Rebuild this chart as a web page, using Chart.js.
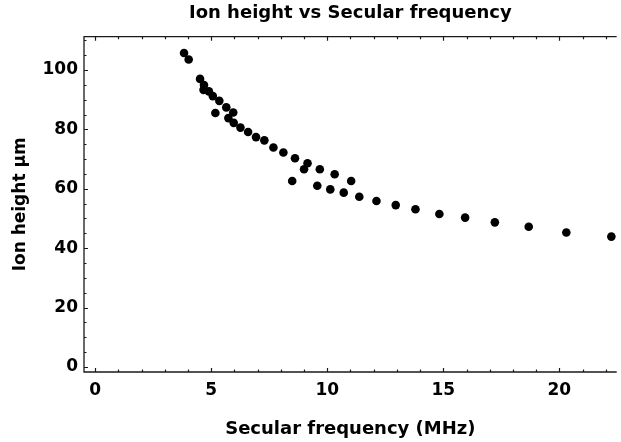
<!DOCTYPE html>
<html><head><meta charset="utf-8">
<script src="https://cdn.jsdelivr.net/npm/chart.js@4.4.1/dist/chart.umd.min.js"></script>
<style>html,body{margin:0;padding:0;background:#fff;}#wrap{width:621px;height:442px;}</style>
</head><body><div id="wrap"><canvas id="c" width="621" height="442"></canvas></div>
<script>
// ---- data ----
const frequencyMHz = [3.83, 4.03, 4.52, 4.69, 4.67, 4.90, 5.07, 5.35, 5.18, 5.65,
  5.95, 5.74, 5.97, 6.26, 6.59, 6.93, 7.29, 7.68, 8.11, 8.61,
  9.15, 9.00, 9.68, 10.32, 11.03, 8.49, 9.57, 10.13, 10.71, 11.38,
  12.12, 12.95, 13.80, 14.83, 15.94, 17.22, 18.68, 20.30, 22.24];
const ionHeightUm = [105.7, 103.5, 97.0, 94.9, 93.3, 92.8, 91.2, 89.6, 85.5, 87.4,
  85.7, 83.8, 82.2, 80.6, 79.1, 77.4, 76.3, 73.9, 72.2, 70.3,
  68.6, 66.6, 66.6, 64.9, 62.6, 62.6, 61.0, 59.8, 58.7, 57.3,
  55.9, 54.5, 53.1, 51.5, 50.3, 48.7, 47.2, 45.3, 43.9];
const xTickLabels = [0, 5, 10, 15, 20];
const yTickLabels = [0, 20, 40, 60, 80, 100];
const chartTitle = 'Ion height vs Secular frequency';
const xAxisTitle = 'Secular frequency (MHz)';
const yAxisTitle = 'Ion height \u03BCm';

const points = frequencyMHz.map((f, i) => ({x: f, y: ionHeightUm[i]}));

const frameAndTicks = {
  id: 'frameAndTicks',
  afterDraw(chart) {
    const {ctx, chartArea: a, scales: {x, y}} = chart;
    ctx.save();
    ctx.strokeStyle = '#1a1a1a';
    ctx.lineWidth = 1.3;
    ctx.beginPath();
    ctx.moveTo(a.right, a.top); ctx.lineTo(a.left, a.top);
    ctx.lineTo(a.left, a.bottom); ctx.lineTo(a.right, a.bottom);
    ctx.stroke();
    ctx.lineWidth = 1.2;
    ctx.beginPath();
    for (let v = Math.ceil(x.min); v <= x.max; v += 1) {
      const px = Math.round(x.getPixelForValue(v)) + 0.5;
      const L = (v % 5 === 0) ? 4 : 2.5;
      ctx.moveTo(px, a.bottom); ctx.lineTo(px, a.bottom - L);
      ctx.moveTo(px, a.top); ctx.lineTo(px, a.top + L);
    }
    for (let v = Math.ceil(y.min / 5) * 5; v <= y.max; v += 5) {
      const py = Math.round(y.getPixelForValue(v)) + 0.5;
      const L = (v % 20 === 0) ? 4 : 2.5;
      ctx.moveTo(a.left, py); ctx.lineTo(a.left + L, py);
    }
    ctx.stroke();
    ctx.restore();
  }
};

Chart.defaults.font.family = '"DejaVu Sans", sans-serif';
Chart.defaults.color = '#000';

new Chart(document.getElementById('c'), {
  type: 'scatter',
  data: {
    datasets: [{
      data: points,
      backgroundColor: '#000',
      borderColor: '#000',
      borderWidth: 0,
      pointRadius: 4.3,
      pointHoverRadius: 4.3
    }]
  },
  options: {
    responsive: false,
    animation: false,
    devicePixelRatio: 1,
    layout: {padding: {left: 0, right: 0, top: 0, bottom: 0}},
    plugins: {
      legend: {display: false},
      tooltip: {enabled: false},
      title: {
        display: true,
        text: chartTitle,
        fullSize: false,
        color: '#000',
        font: {size: 18, weight: 'bold'},
        padding: {top: 3, bottom: 12.1}
      }
    },
    scales: {
      x: {
        type: 'linear',
        min: -0.48,
        max: 22.47,
        grid: {display: false, drawTicks: false},
        border: {display: false},
        afterBuildTicks: s => { s.ticks = xTickLabels.map(v => ({value: v})); },
        afterFit: s => { s.height = 70; },
        ticks: {
          font: {size: 17, weight: 'bold'},
          padding: 8,
          maxRotation: 0,
          autoSkip: false,
          callback: v => String(v)
        },
        title: {
          display: true,
          text: xAxisTitle,
          font: {size: 18, weight: 'bold'},
          padding: {top: 0, bottom: 2}
        }
      },
      y: {
        type: 'linear',
        min: -1.68,
        max: 111.2,
        grid: {display: false, drawTicks: false},
        border: {display: false},
        afterBuildTicks: s => { s.ticks = yTickLabels.map(v => ({value: v})); },
        afterFit: s => { s.width = 84; },
        ticks: {
          font: {size: 17, weight: 'bold'},
          padding: 6,
          autoSkip: false,
          callback: v => String(v)
        },
        title: {
          display: true,
          text: yAxisTitle,
          font: {size: 17, weight: 'bold'},
          padding: {top: 10, bottom: 0}
        }
      }
    }
  },
  plugins: [frameAndTicks]
});
</script>
</body></html>
